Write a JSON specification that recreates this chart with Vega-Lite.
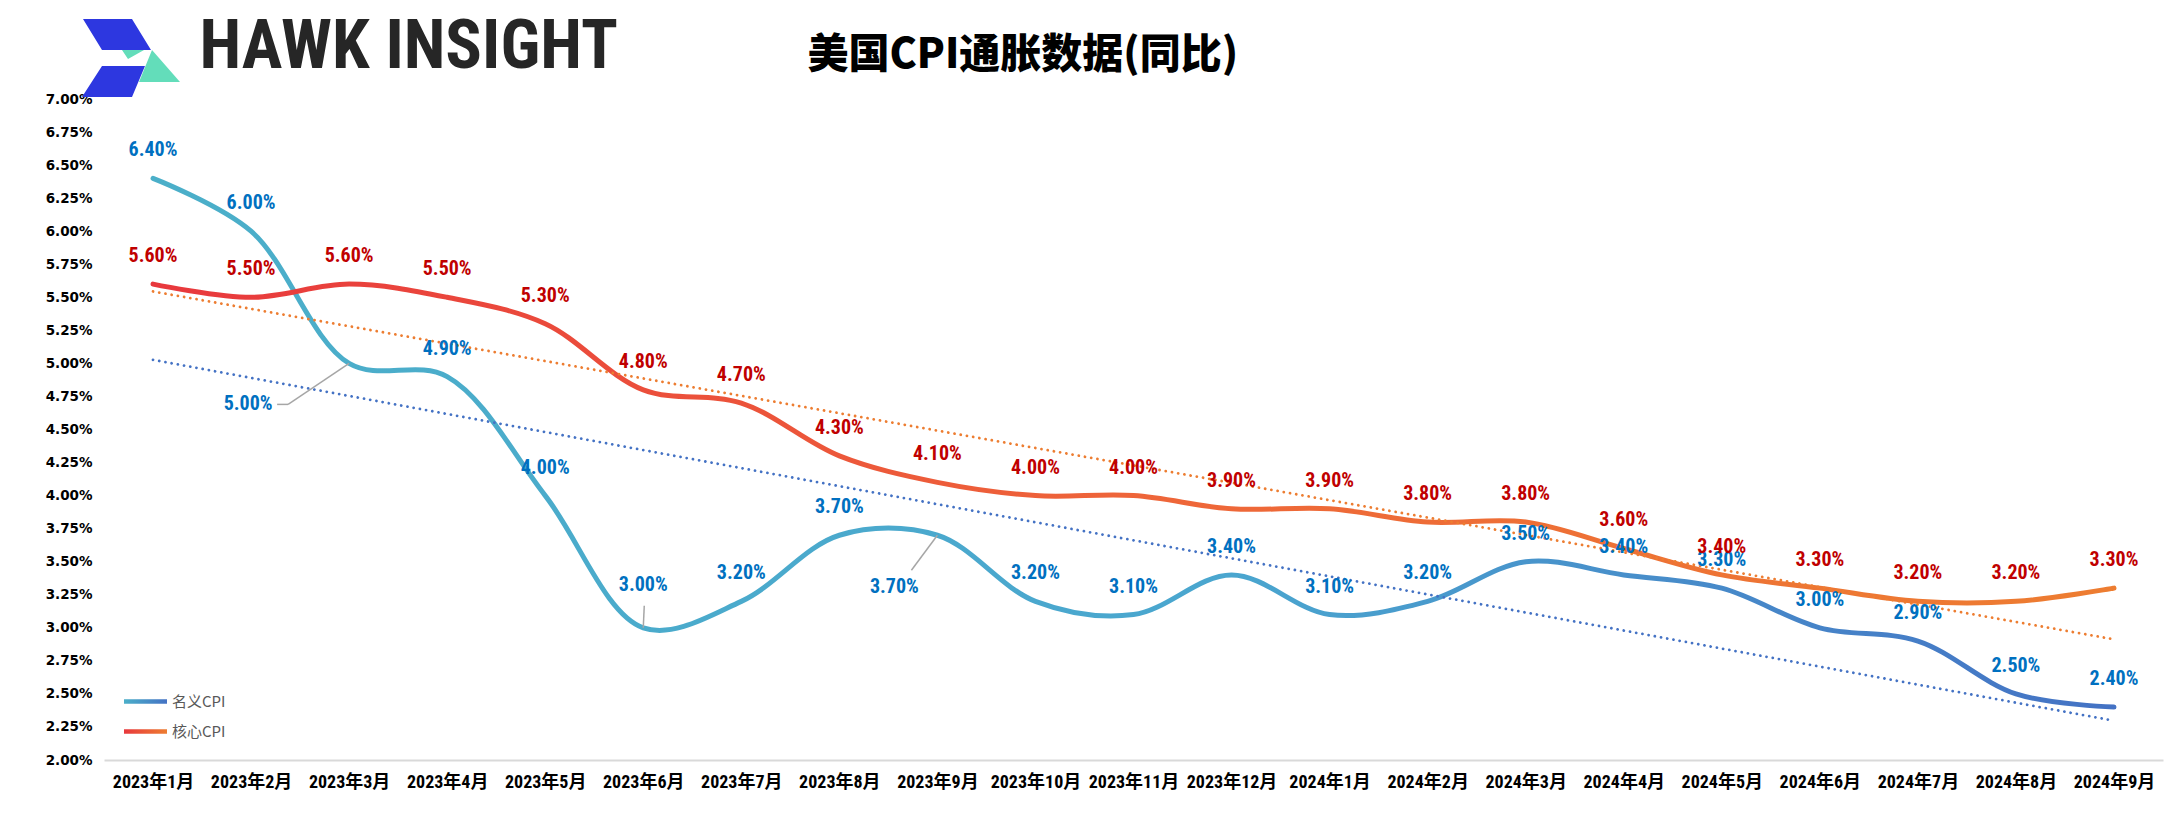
{
  "$schema": "https://vega.github.io/schema/vega-lite/v6.json",
  "width": 2059,
  "height": 661,
  "autosize": {"type": "none"},
  "padding": {"left": 104, "top": 99, "right": 18, "bottom": 54},
  "background": "#ffffff",
  "config": {"view": {"stroke": null}},
  "data": {"values": [
    {"i": 0, "month": "2023年1月", "series": "名义CPI", "value": 0.064},
    {"i": 1, "month": "2023年2月", "series": "名义CPI", "value": 0.060},
    {"i": 2, "month": "2023年3月", "series": "名义CPI", "value": 0.050},
    {"i": 3, "month": "2023年4月", "series": "名义CPI", "value": 0.049},
    {"i": 4, "month": "2023年5月", "series": "名义CPI", "value": 0.040},
    {"i": 5, "month": "2023年6月", "series": "名义CPI", "value": 0.030},
    {"i": 6, "month": "2023年7月", "series": "名义CPI", "value": 0.032},
    {"i": 7, "month": "2023年8月", "series": "名义CPI", "value": 0.037},
    {"i": 8, "month": "2023年9月", "series": "名义CPI", "value": 0.037},
    {"i": 9, "month": "2023年10月", "series": "名义CPI", "value": 0.032},
    {"i": 10, "month": "2023年11月", "series": "名义CPI", "value": 0.031},
    {"i": 11, "month": "2023年12月", "series": "名义CPI", "value": 0.034},
    {"i": 12, "month": "2024年1月", "series": "名义CPI", "value": 0.031},
    {"i": 13, "month": "2024年2月", "series": "名义CPI", "value": 0.032},
    {"i": 14, "month": "2024年3月", "series": "名义CPI", "value": 0.035},
    {"i": 15, "month": "2024年4月", "series": "名义CPI", "value": 0.034},
    {"i": 16, "month": "2024年5月", "series": "名义CPI", "value": 0.033},
    {"i": 17, "month": "2024年6月", "series": "名义CPI", "value": 0.030},
    {"i": 18, "month": "2024年7月", "series": "名义CPI", "value": 0.029},
    {"i": 19, "month": "2024年8月", "series": "名义CPI", "value": 0.025},
    {"i": 20, "month": "2024年9月", "series": "名义CPI", "value": 0.024},
    {"i": 0, "month": "2023年1月", "series": "核心CPI", "value": 0.056},
    {"i": 1, "month": "2023年2月", "series": "核心CPI", "value": 0.055},
    {"i": 2, "month": "2023年3月", "series": "核心CPI", "value": 0.056},
    {"i": 3, "month": "2023年4月", "series": "核心CPI", "value": 0.055},
    {"i": 4, "month": "2023年5月", "series": "核心CPI", "value": 0.053},
    {"i": 5, "month": "2023年6月", "series": "核心CPI", "value": 0.048},
    {"i": 6, "month": "2023年7月", "series": "核心CPI", "value": 0.047},
    {"i": 7, "month": "2023年8月", "series": "核心CPI", "value": 0.043},
    {"i": 8, "month": "2023年9月", "series": "核心CPI", "value": 0.041},
    {"i": 9, "month": "2023年10月", "series": "核心CPI", "value": 0.040},
    {"i": 10, "month": "2023年11月", "series": "核心CPI", "value": 0.040},
    {"i": 11, "month": "2023年12月", "series": "核心CPI", "value": 0.039},
    {"i": 12, "month": "2024年1月", "series": "核心CPI", "value": 0.039},
    {"i": 13, "month": "2024年2月", "series": "核心CPI", "value": 0.038},
    {"i": 14, "month": "2024年3月", "series": "核心CPI", "value": 0.038},
    {"i": 15, "month": "2024年4月", "series": "核心CPI", "value": 0.036},
    {"i": 16, "month": "2024年5月", "series": "核心CPI", "value": 0.034},
    {"i": 17, "month": "2024年6月", "series": "核心CPI", "value": 0.033},
    {"i": 18, "month": "2024年7月", "series": "核心CPI", "value": 0.032},
    {"i": 19, "month": "2024年8月", "series": "核心CPI", "value": 0.032},
    {"i": 20, "month": "2024年9月", "series": "核心CPI", "value": 0.033}
  ]},
  "encoding": {
    "x": {
      "field": "i", "type": "quantitative",
      "scale": {"domain": [-0.5, 20.5], "nice": false, "zero": false},
      "axis": {
        "values": [0,1,2,3,4,5,6,7,8,9,10,11,12,13,14,15,16,17,18,19,20],
        "labelExpr": "['2023年1月','2023年2月','2023年3月','2023年4月','2023年5月','2023年6月','2023年7月','2023年8月','2023年9月','2023年10月','2023年11月','2023年12月','2024年1月','2024年2月','2024年3月','2024年4月','2024年5月','2024年6月','2024年7月','2024年8月','2024年9月'][datum.value]",
        "labelFont": "Liberation Sans Narrow, Roboto Condensed, Noto Sans CJK SC",
        "labelFontWeight": "bold",
        "labelFontSize": 18,
        "labelColor": "#000000",
        "labelPadding": 13,
        "labelOverlap": false,
        "labelFlush": false,
        "ticks": false,
        "grid": false,
        "domainColor": "#D9D9D9",
        "domainWidth": 2,
        "title": "HAWK INSIGHT",
        "titleX": 95,
        "titleY": -713,
        "titleAlign": "left",
        "titleBaseline": "middle",
        "titleAngle": 0,
        "titleFont": "Liberation Sans Narrow, Roboto Condensed, Roboto",
        "titleFontSize": 68,
        "titleFontWeight": "bold",
        "titleColor": "#262626"
      }
    },
    "y": {
      "field": "value", "type": "quantitative",
      "scale": {"domain": [0.02, 0.07], "nice": false, "zero": false},
      "axis": {
        "values": [0.02,0.0225,0.025,0.0275,0.03,0.0325,0.035,0.0375,0.04,0.0425,0.045,0.0475,0.05,0.0525,0.055,0.0575,0.06,0.0625,0.065,0.0675,0.07],
        "format": ".2%",
        "labelFont": "DejaVu Sans",
        "labelFontWeight": "bold",
        "labelFontSize": 13.5,
        "labelColor": "#000000",
        "labelPadding": 12,
        "labelOverlap": false,
        "ticks": false,
        "domain": false,
        "grid": false,
        "title": "美国CPI通胀数据(同比)",
        "titleX": 703,
        "titleY": -44,
        "titleAlign": "left",
        "titleBaseline": "middle",
        "titleAngle": 0,
        "titleFont": "Noto Sans CJK SC",
        "titleFontSize": 41,
        "titleFontWeight": 900,
        "titleColor": "#000000"
      }
    }
  },
  "layer": [
    {
      "transform": [{"filter": "false"}],
      "mark": {"type": "line"},
      "encoding": {
        "color": {
          "field": "series", "type": "nominal",
          "scale": {"domain": ["名义CPI", "核心CPI"], "range": ["#4A9FCB", "#EC5A36"]},
          "legend": {
            "orient": "none",
            "legendX": 20,
            "legendY": 581,
            "title": null,
            "padding": 0,
            "symbolType": "M-1,-0.11L1,-0.11L1,0.11L-1,0.11Z",
            "symbolSize": 1849,
            "symbolStrokeWidth": 0,
            "labelFont": "Noto Sans CJK SC",
            "labelFontSize": 15,
            "labelColor": "#595959",
            "labelOffset": 5,
            "rowPadding": 0,
            "encode": {
              "symbols": {
                "update": {
                  "fill": [
                    {"test": "datum.value === '名义CPI'", "value": {"gradient": "linear", "x1": 0, "y1": 0, "x2": 1, "y2": 0, "stops": [{"offset": 0, "color": "#4BAFC9"}, {"offset": 1, "color": "#4472C4"}]}},
                    {"value": {"gradient": "linear", "x1": 0, "y1": 0, "x2": 1, "y2": 0, "stops": [{"offset": 0, "color": "#E8383D"}, {"offset": 1, "color": "#ED7D31"}]}}
                  ],
                  "stroke": {"value": "transparent"}
                }
              }
            }
          }
        }
      }
    },
    {
      "transform": [{"filter": "false"}],
      "mark": {"type": "point", "opacity": 1, "filled": true, "color": "#63DDBA"},
      "encoding": {
        "shape": {
          "field": "series", "type": "nominal",
          "scale": {"domain": ["logo-green"], "range": ["M21,-8L49,24L8,24ZM-9,-8L13,-8L-3,1Z"]},
          "legend": {
            "orient": "none",
            "legendX": 26,
            "legendY": -42,
            "title": null,
            "padding": 0,
            "symbolSize": 4,
            "symbolStrokeWidth": 0,
            "symbolFillColor": "#63DDBA",
            "symbolOpacity": 1,
            "labelExpr": "''",
            "labelFontSize": 1
          }
        }
      }
    },
    {
      "transform": [{"filter": "false"}],
      "mark": {"type": "point", "opacity": 1, "filled": true},
      "encoding": {
        "fill": {
          "field": "month", "type": "nominal",
          "scale": {"domain": ["logo-blue"], "range": ["#2D37E0"]},
          "legend": {
            "orient": "none",
            "legendX": 26,
            "legendY": -42,
            "title": null,
            "padding": 0,
            "symbolType": "M-48,-39L1,-39L20,-8L-29,-8ZM-29,8L14,8L1,39L-49,39Z",
            "symbolSize": 4,
            "symbolStrokeWidth": 0,
            "symbolOpacity": 1,
            "labelExpr": "''",
            "labelFontSize": 1
          }
        }
      }
    },
    {
      "transform": [{"filter": "datum.series === '名义CPI'"}],
      "mark": {
        "type": "line", "interpolate": "catmull-rom", "strokeWidth": 5, "strokeCap": "round", "strokeJoin": "round",
        "stroke": {"gradient": "linear", "x1": 0, "y1": 0, "x2": 1, "y2": 0, "stops": [{"offset": 0, "color": "#4BAFC9"}, {"offset": 0.55, "color": "#4AA6CF"}, {"offset": 1, "color": "#4472C4"}]}
      }
    },
    {
      "transform": [{"filter": "datum.series === '核心CPI'"}],
      "mark": {
        "type": "line", "interpolate": "catmull-rom", "strokeWidth": 5, "strokeCap": "round", "strokeJoin": "round",
        "stroke": {"gradient": "linear", "x1": 0, "y1": 0, "x2": 1, "y2": 0, "stops": [{"offset": 0, "color": "#E8383D"}, {"offset": 0.5, "color": "#EE6539"}, {"offset": 1, "color": "#ED7D31"}]}
      }
    },
    {
      "transform": [{"filter": "datum.series === '名义CPI'"}, {"regression": "value", "on": "i", "extent": [0, 20]}],
      "mark": {"type": "line", "color": "#4472C4", "strokeWidth": 2.8, "strokeDash": [0.01, 6.3], "strokeCap": "round"}
    },
    {
      "transform": [{"filter": "datum.series === '核心CPI'"}, {"regression": "value", "on": "i", "extent": [0, 20]}],
      "mark": {"type": "line", "color": "#ED7D31", "strokeWidth": 2.8, "strokeDash": [0.01, 6.3], "strokeCap": "round"}
    },
    {
      "transform": [{"filter": "datum.series === '名义CPI' && datum.i === 2"}],
      "mark": {"type": "rule", "color": "#A6A6A6", "strokeWidth": 1.5, "x2Offset": -61, "y2Offset": 41},
      "encoding": {"x2": {"field": "i"}, "y2": {"field": "value"}}
    },
    {
      "transform": [{"filter": "datum.series === '名义CPI' && datum.i === 2"}],
      "mark": {"type": "rule", "color": "#A6A6A6", "strokeWidth": 1.5, "xOffset": -61, "yOffset": 41, "x2Offset": -72, "y2Offset": 41},
      "encoding": {"x2": {"field": "i"}, "y2": {"field": "value"}}
    },
    {
      "transform": [{"filter": "datum.series === '名义CPI' && datum.i === 5"}],
      "mark": {"type": "rule", "color": "#A6A6A6", "strokeWidth": 1.5, "x2Offset": 1, "y2Offset": -22},
      "encoding": {"x2": {"field": "i"}, "y2": {"field": "value"}}
    },
    {
      "transform": [{"filter": "datum.series === '名义CPI' && datum.i === 8"}],
      "mark": {"type": "rule", "color": "#A6A6A6", "strokeWidth": 1.5, "x2Offset": -26, "y2Offset": 35},
      "encoding": {"x2": {"field": "i"}, "y2": {"field": "value"}}
    },
    {
      "transform": [{"filter": "datum.series === '名义CPI' && datum.i !== 2 && datum.i !== 5 && datum.i !== 8"}],
      "mark": {"type": "text", "dy": -28, "align": "center", "baseline": "middle", "font": "Liberation Sans Narrow, Roboto Condensed, Noto Sans", "fontWeight": "bold", "fontSize": 20, "color": "#0070C0"},
      "encoding": {"text": {"field": "value", "type": "quantitative", "format": ".2%"}}
    },
    {
      "transform": [{"filter": "datum.series === '名义CPI' && datum.i === 2"}],
      "mark": {"type": "text", "dx": -101, "dy": 41, "align": "center", "baseline": "middle", "font": "Liberation Sans Narrow, Roboto Condensed, Noto Sans", "fontWeight": "bold", "fontSize": 20, "color": "#0070C0"},
      "encoding": {"text": {"field": "value", "type": "quantitative", "format": ".2%"}}
    },
    {
      "transform": [{"filter": "datum.series === '名义CPI' && datum.i === 5"}],
      "mark": {"type": "text", "dy": -43, "align": "center", "baseline": "middle", "font": "Liberation Sans Narrow, Roboto Condensed, Noto Sans", "fontWeight": "bold", "fontSize": 20, "color": "#0070C0"},
      "encoding": {"text": {"field": "value", "type": "quantitative", "format": ".2%"}}
    },
    {
      "transform": [{"filter": "datum.series === '名义CPI' && datum.i === 8"}],
      "mark": {"type": "text", "dx": -43, "dy": 52, "align": "center", "baseline": "middle", "font": "Liberation Sans Narrow, Roboto Condensed, Noto Sans", "fontWeight": "bold", "fontSize": 20, "color": "#0070C0"},
      "encoding": {"text": {"field": "value", "type": "quantitative", "format": ".2%"}}
    },
    {
      "transform": [{"filter": "datum.series === '核心CPI'"}],
      "mark": {"type": "text", "dy": -28, "align": "center", "baseline": "middle", "font": "Liberation Sans Narrow, Roboto Condensed, Noto Sans", "fontWeight": "bold", "fontSize": 20, "color": "#C00000"},
      "encoding": {"text": {"field": "value", "type": "quantitative", "format": ".2%"}}
    }
  ]
}
